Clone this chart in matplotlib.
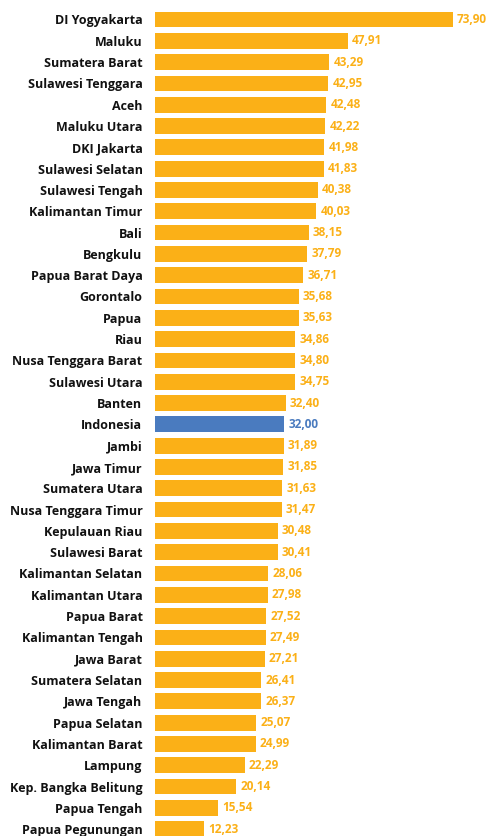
import matplotlib.pyplot as plt

provinces = ['DI Yogyakarta', 'Maluku', 'Sumatera Barat', 'Sulawesi Tenggara', 'Aceh',
             'Maluku Utara', 'DKI Jakarta', 'Sulawesi Selatan', 'Sulawesi Tengah',
             'Kalimantan Timur', 'Bali', 'Bengkulu', 'Papua Barat Daya', 'Gorontalo',
             'Papua', 'Riau', 'Nusa Tenggara Barat', 'Sulawesi Utara', 'Banten',
             'Indonesia', 'Jambi', 'Jawa Timur', 'Sumatera Utara', 'Nusa Tenggara Timur',
             'Kepulauan Riau', 'Sulawesi Barat', 'Kalimantan Selatan', 'Kalimantan Utara',
             'Papua Barat', 'Kalimantan Tengah', 'Jawa Barat', 'Sumatera Selatan',
             'Jawa Tengah', 'Papua Selatan', 'Kalimantan Barat', 'Lampung',
             'Kep. Bangka Belitung', 'Papua Tengah', 'Papua Pegunungan']
values = [73.90, 47.91, 43.29, 42.95, 42.48, 42.22, 41.98, 41.83, 40.38, 40.03,
          38.15, 37.79, 36.71, 35.68, 35.63, 34.86, 34.80, 34.75, 32.40, 32.00,
          31.89, 31.85, 31.63, 31.47, 30.48, 30.41, 28.06, 27.98, 27.52, 27.49,
          27.21, 26.41, 26.37, 25.07, 24.99, 22.29, 20.14, 15.54, 12.23]

orange = '#FBB017'
blue = '#4A7BBF'
colors = [blue if p == 'Indonesia' else orange for p in provinces]

plt.rcParams['font.family'] = ['Open Sans', 'DejaVu Sans']

fig = plt.figure(figsize=(4.88, 8.36), dpi=100)
ax = fig.add_axes([155 / 488, 0, 333 / 488, 1])

n = len(provinces)
ypos = list(range(n))
ax.barh(ypos, values, height=0.74, color=colors)

for y, v, c in zip(ypos, values, colors):
    ax.annotate(f'{v:.2f}'.replace('.', ','), (v, y), xytext=(3, 0),
                textcoords='offset points', va='center', ha='left',
                fontsize=8.5, fontweight='bold', color=c)

ax.set_yticks(ypos)
ax.set_yticklabels(provinces, fontsize=9, fontweight='bold', color='#111111')
ax.tick_params(axis='y', length=0, pad=9)
ax.set_xticks([])
ax.set_xlim(0, 333 / 4.03)
ax.set_ylim(n - 1 + 0.32, -0.915)
for s in ax.spines.values():
    s.set_visible(False)

fig.savefig('out.png', dpi=100)
